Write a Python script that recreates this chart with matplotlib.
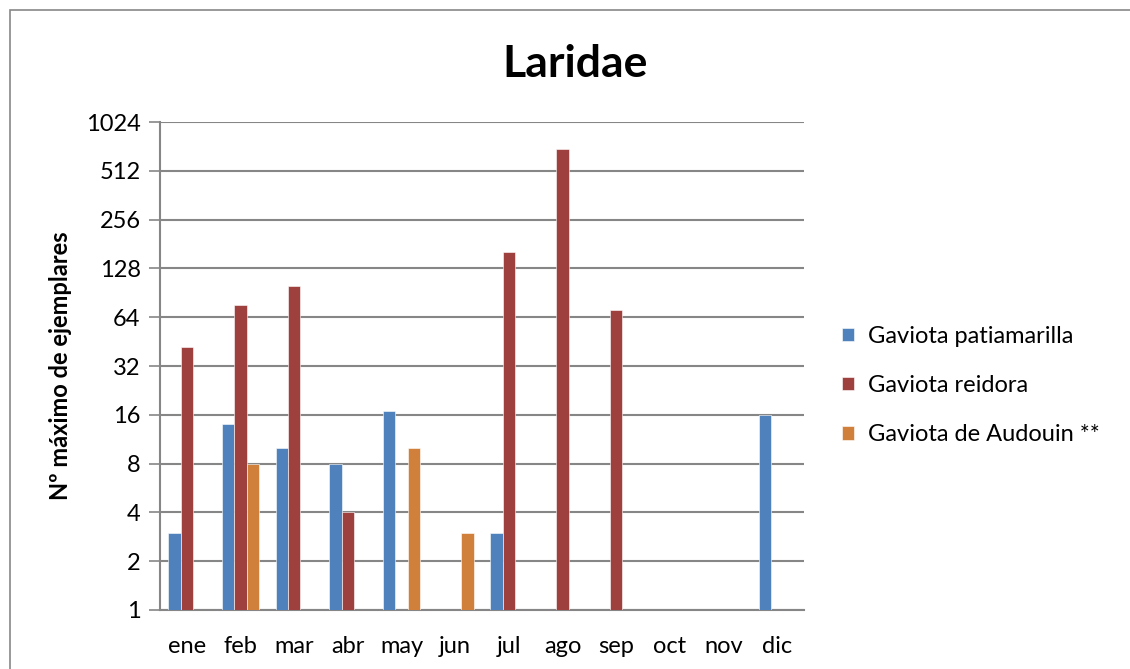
import numpy as np
import matplotlib
matplotlib.use("Agg")
from matplotlib import pyplot as plt
from matplotlib.patches import Rectangle
from matplotlib.ticker import FixedLocator, FixedFormatter

plt.rcParams['font.family'] = ['Lato', 'DejaVu Sans']

meses = ['ene', 'feb', 'mar', 'abr', 'may', 'jun', 'jul', 'ago', 'sep', 'oct', 'nov', 'dic']
# monthly maximum counts (None = no record)
patiamarilla = [3, 14, 10, 8, 17, None, 3, None, None, None, None, 16]
reidora = [42, 76, 100, 4, None, None, 162, 700, 71, None, None, None]
audouin = [None, 8, None, None, 10, 3, None, None, None, None, None, None]

series = [('Gaviota patiamarilla', patiamarilla, '#4F81BD'),
          ('Gaviota reidora', reidora, '#9E413E'),
          ('Gaviota de Audouin **', audouin, '#D0803A')]

fig = plt.figure(figsize=(11.3, 6.69), dpi=100)
ax = fig.add_axes([0.1416, 0.0882, 0.5699, 0.7294])

x = np.arange(len(meses))
w = 0.229
for i, (name, vals, col) in enumerate(series):
    xs = [x[j] + (i - 1) * w for j, v in enumerate(vals) if v is not None]
    hs = [v for v in vals if v is not None]
    ax.bar(xs, hs, width=w, color=col, label=name, zorder=3,
           edgecolor='white', linewidth=0.4)

ax.set_yscale('log', base=2)
ax.set_ylim(1, 1024)
ax.set_xlim(-0.5, len(meses) - 0.5)
yt = [2 ** k for k in range(11)]
ax.yaxis.set_major_locator(FixedLocator(yt))
ax.yaxis.set_major_formatter(FixedFormatter([str(v) for v in yt]))
ax.yaxis.set_minor_locator(FixedLocator([]))
ax.set_xticks(x)
ax.set_xticklabels(meses)

ax.grid(axis='y', color='#868686', linewidth=1.5, zorder=0)
for s in ['top', 'right']:
    ax.spines[s].set_visible(False)
ax.spines['left'].set_color('#868686')
ax.spines['left'].set_linewidth(1.5)
ax.spines['bottom'].set_color('#868686')
ax.spines['bottom'].set_linewidth(1.5)
ax.tick_params(axis='y', length=8, width=1.2, color='#868686', labelsize=17, pad=6)
ax.tick_params(axis='x', length=0, labelsize=17, pad=19)

ax.set_ylabel('Nº máximo de ejemplares', fontsize=17, fontweight='bold', labelpad=10)
fig.text(0.509, 0.905, 'Laridae', ha='center', va='center', fontsize=32, fontweight='bold')

ax.legend(loc='center left', bbox_to_anchor=(1.045, 0.46), frameon=False,
          fontsize=17, handlelength=0.5, handleheight=0.5, handletextpad=0.6,
          labelspacing=1.2, borderaxespad=0)

# chart border
fig.patches.append(Rectangle((10 / 1130, -0.01), 1.1, 1 - 10 / 669 + 0.01,
                             transform=fig.transFigure, fill=False,
                             edgecolor='#888888', linewidth=1.2))

fig.savefig('out.png', dpi=100)
